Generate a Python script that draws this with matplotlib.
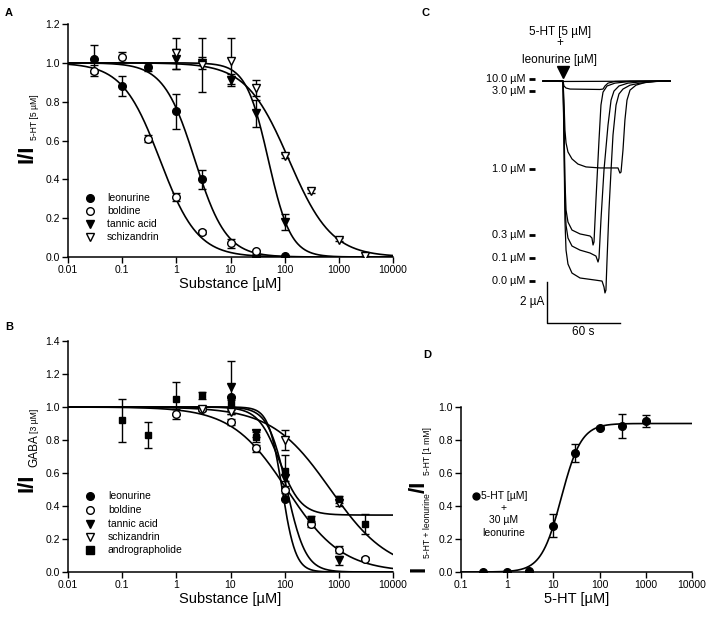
import numpy as np
import matplotlib
matplotlib.use('Agg')
import matplotlib.pyplot as plt

plt.rcParams['font.family'] = ['Liberation Sans', 'DejaVu Sans']

# ---------------- panel A : 5-HT3 receptor, 5 uM 5-HT ----------------
a_leo_x = [0.03, 0.1, 0.3, 1, 3, 30, 100]
a_leo_y = [1.02, 0.88, 0.98, 0.75, 0.40, 0.005, 0.003]
a_leo_e = [0.07, 0.05, 0.02, 0.09, 0.05, 0.0, 0.0]
a_bol_x = [0.03, 0.1, 0.3, 1, 3, 10, 30]
a_bol_y = [0.96, 1.03, 0.61, 0.31, 0.13, 0.07, 0.03]
a_bol_e = [0.03, 0.025, 0.02, 0.02, 0.01, 0.025, 0.005]
a_tan_x = [1, 3, 10, 30, 100]
a_tan_y = [1.02, 1.0, 0.91, 0.74, 0.18]
a_tan_e = [0.05, 0.03, 0.03, 0.07, 0.04]
a_sch_x = [1, 3, 10, 30, 100, 300, 1000, 3000]
a_sch_y = [1.05, 0.99, 1.01, 0.87, 0.52, 0.34, 0.09, 0.005]
a_sch_e = [0.08, 0.14, 0.12, 0.04, 0.01, 0.01, 0.01, 0.0]
# fitted (IC50, nH, bottom)
a_fits = [(2.2, 1.5, 0.0), (0.5, 1.25, 0.0), (50, 2.1, 0.0), (120, 1.1, 0.0)]

# ---------------- panel B : GABA-A receptor, 3 uM GABA ----------------
b_leo_x = [10, 100]
b_leo_y = [1.06, 0.44]
b_leo_e = [0.0, 0.0]
b_bol_x = [1, 3, 10, 30, 100, 300, 1000, 3000]
b_bol_y = [0.96, 0.99, 0.91, 0.75, 0.50, 0.29, 0.135, 0.08]
b_bol_e = [0.03, 0.01, 0.02, 0.02, 0.02, 0.02, 0.02, 0.01]
b_tan_x = [10, 30, 100, 1000]
b_tan_y = [1.12, 0.84, 0.57, 0.07]
b_tan_e = [0.16, 0.02, 0.02, 0.03]
b_sch_x = [3, 10, 100, 1000]
b_sch_y = [0.985, 0.97, 0.80, 0.42]
b_sch_e = [0.01, 0.01, 0.06, 0.02]
b_and_x = [0.1, 0.3, 1, 3, 10, 30, 100, 300, 1000, 3000]
b_and_y = [0.92, 0.83, 1.05, 1.07, 1.02, 0.82, 0.61, 0.32, 0.44, 0.29]
b_and_e = [0.13, 0.08, 0.10, 0.02, 0.02, 0.03, 0.10, 0.02, 0.02, 0.06]
b_fits = [(90, 3.5, 0.0), (110, 0.85, 0.0), (110, 2.5, 0.0), (700, 0.8, 0.0), (80, 2.2, 0.345)]

# ---------------- panel D : 5-HT + 30 uM leonurine ----------------
d_x = [0.3, 1, 3, 10, 30, 100, 300, 1000]
d_y = [0.0, 0.0, 0.005, 0.28, 0.72, 0.875, 0.885, 0.915]
d_e = [0, 0, 0, 0.07, 0.055, 0.01, 0.07, 0.035]
d_fit = (14.8, 2.0, 0.9)   # EC50, nH, top

# ---------------- panel C : current traces (t in s, I in uA) ----------------
c_labels = ['10.0 µM', '3.0 µM', '1.0 µM', '0.3 µM', '0.1 µM', '0.0 µM']
c_label_i = [0.12, -0.5, -4.29, -7.52, -8.64, -9.76]
tr100_t = [-16.4, 0, 88]
tr100_i = [0, -0.02, 0]
tr30_t = [-16.4, 0, 0.8, 2.5, 5.8, 30.4, 32.9, 34.5, 37.0, 42.7, 55.1, 88]
tr30_i = [0, 0, -0.24, -0.34, -0.39, -0.41, -0.39, -0.24, -0.10, -0.02, 0, 0]
tr10_t = [-16.4, 0, 0.8, 1.6, 2.5, 4.1, 7.4, 12.3, 18.9, 30.4, 45.2, 46.8, 47.7,
          49.3, 50.9, 52.6, 55.1, 60.0, 67.4, 79.7, 88]
tr10_i = [0, 0, -0.93, -2.39, -3.02, -3.46, -3.80, -4.05, -4.19, -4.24, -4.24, -4.49, -4.44,
          -3.37, -1.90, -0.93, -0.44, -0.20, -0.07, 0, 0]
tr03_t = [-16.4, 0, 0.8, 1.6, 2.5, 4.1, 7.4, 14.0, 22.2, 23.8, 24.7, 25.5, 27.1,
          29.6, 31.2, 32.9, 36.2, 42.7, 55.1, 71.5, 88]
tr03_i = [0, 0, -1.90, -4.83, -6.29, -6.88, -7.27, -7.46, -7.56, -7.66, -8.00, -7.85, -5.80,
          -2.88, -1.17, -0.54, -0.24, -0.10, -0.02, 0, 0]
tr01_t = [-16.4, 0, 0.8, 1.6, 2.5, 4.1, 7.4, 14.0, 22.2, 27.1, 28.8, 29.6, 31.2, 33.7,
          37.0, 39.5, 41.9, 46.0, 53.4, 67.4, 83.8, 88]
tr01_i = [0, 0, -2.39, -5.81, -7.03, -7.66, -8.05, -8.25, -8.39, -8.54, -8.83, -8.64, -6.78,
          -4.34, -2.15, -0.93, -0.49, -0.24, -0.10, -0.02, 0, 0]
tr00_t = [-16.4, 0, 0.8, 1.6, 2.5, 4.1, 7.4, 14.0, 26.3, 32.1, 33.7, 34.5, 35.3, 36.2,
          37.8, 39.5, 41.1, 43.6, 46.0, 49.3, 55.1, 63.3, 75.6, 88]
tr00_i = [0, 0, -2.88, -6.78, -8.25, -8.93, -9.37, -9.61, -9.71, -9.76, -10.05, -10.34, -10.20,
          -8.73, -6.29, -4.34, -2.63, -1.17, -0.63, -0.39, -0.20, -0.10, -0.02, 0]


def hill(x, c, n, bottom=0.0, top=1.0):
    return bottom + (top - bottom) / (1.0 + (x / c) ** n)


def style_axis(ax, xlim, ylim, yticks, xticks):
    ax.set_xscale('log')
    ax.set_xlim(xlim)
    ax.set_ylim(ylim)
    ax.spines['top'].set_visible(False)
    ax.spines['right'].set_visible(False)
    for s in ['left', 'bottom']:
        ax.spines[s].set_linewidth(1.1)
    ax.set_xticks(xticks)
    ax.set_xticklabels(['%g' % v for v in xticks])
    ax.xaxis.set_minor_locator(matplotlib.ticker.NullLocator())
    ax.set_yticks(yticks)
    ax.set_yticklabels(['%.1f' % v for v in yticks])
    ax.tick_params(direction='out', length=4, width=1.0, labelsize=7.5, pad=2)


def plot_series(ax, x, y, e, marker, filled, ms=5.5):
    ax.errorbar(x, y, yerr=e, fmt='none', ecolor='k', elinewidth=1.0, capsize=3, capthick=1.0, zorder=3)
    ax.plot(x, y, ls='none', marker=marker, ms=ms, mec='k', mew=1.0,
            mfc='k' if filled else 'white', zorder=4)


def manual_legend(ax, entries, x_mark, x_text, ys):
    for (label, marker, filled), y in zip(entries, ys):
        ax.plot([x_mark], [y], transform=ax.transAxes, ls='none', marker=marker, ms=5.5,
                mec='k', mew=1.0, mfc='k' if filled else 'white', clip_on=False)
        ax.text(x_text, y, label, transform=ax.transAxes, fontsize=7.5, va='center', ha='left')


W, H = 708.0, 620.0
fig = plt.figure(figsize=(7.08, 6.2), dpi=100)


def px(x0, y_top, x1, y_bot):
    return [x0 / W, 1 - y_bot / H, (x1 - x0) / W, (y_bot - y_top) / H]


decades = [0.01, 0.1, 1, 10, 100, 1000, 10000]

# ---- A
axA = fig.add_axes(px(68, 24, 393, 257))
style_axis(axA, (0.01, 10000), (0, 1.2), np.arange(0, 1.21, 0.2), decades)
xc = np.logspace(-2, 4, 400)
for c, n, b in a_fits:
    axA.plot(xc, hill(xc, c, n, b), color='k', lw=1.2, zorder=2)
plot_series(axA, a_leo_x, a_leo_y, a_leo_e, 'o', True)
plot_series(axA, a_bol_x, a_bol_y, a_bol_e, 'o', False)
plot_series(axA, a_tan_x, a_tan_y, a_tan_e, 'v', True, 6)
plot_series(axA, a_sch_x, a_sch_y, a_sch_e, 'v', False, 6)
manual_legend(axA, [('leonurine', 'o', True), ('boldine', 'o', False),
                    ('tannic acid', 'v', True), ('schizandrin', 'v', False)],
              0.068, 0.12, [0.253, 0.197, 0.142, 0.086])
axA.set_xlabel('Substance [µM]', fontsize=10.5, labelpad=1)

# ---- B
axB = fig.add_axes(px(68, 341, 393, 572))
style_axis(axB, (0.01, 10000), (0, 1.4), np.arange(0, 1.41, 0.2), decades)
for c, n, b in b_fits:
    axB.plot(xc, hill(xc, c, n, b), color='k', lw=1.2, zorder=2)
plot_series(axB, b_leo_x, b_leo_y, b_leo_e, 'o', True)
plot_series(axB, b_bol_x, b_bol_y, b_bol_e, 'o', False)
plot_series(axB, b_tan_x, b_tan_y, b_tan_e, 'v', True, 6)
plot_series(axB, b_sch_x, b_sch_y, b_sch_e, 'v', False, 6)
plot_series(axB, b_and_x, b_and_y, b_and_e, 's', True, 5)
manual_legend(axB, [('leonurine', 'o', True), ('boldine', 'o', False),
                    ('tannic acid', 'v', True), ('schizandrin', 'v', False),
                    ('andrographolide', 's', True)],
              0.068, 0.123, [0.329, 0.268, 0.208, 0.152, 0.095])
axB.set_xlabel('Substance [µM]', fontsize=10.5, labelpad=1)

# ---- D
axD = fig.add_axes(px(461, 407, 692, 572))
style_axis(axD, (0.1, 10000), (0, 1.0), np.arange(0, 1.01, 0.2), [0.1, 1, 10, 100, 1000, 10000])
xd = np.logspace(-1, 4, 400)
axD.plot(xd, d_fit[2] * (1 - hill(xd, d_fit[0], d_fit[1])), color='k', lw=1.2, zorder=2)
plot_series(axD, d_x, d_y, d_e, 'o', True)
axD.plot([0.065], [0.46], transform=axD.transAxes, ls='none', marker='o', ms=5, color='k', clip_on=False)
axD.text(0.088, 0.46, '5-HT [µM]', transform=axD.transAxes, fontsize=7.5, va='center')
axD.text(0.186, 0.388, '+', transform=axD.transAxes, fontsize=7.5, va='center', ha='center')
axD.text(0.186, 0.315, '30 µM', transform=axD.transAxes, fontsize=7.5, va='center', ha='center')
axD.text(0.186, 0.236, 'leonurine', transform=axD.transAxes, fontsize=7.5, va='center', ha='center')
axD.set_xlabel('5-HT [µM]', fontsize=10.5, labelpad=1)

# ---- C
axC = fig.add_axes(px(480, 20, 700, 345))
axC.set_xlim(-68.2, 112.6)
axC.set_ylim(-12.88, 2.98)
axC.axis('off')
for t, i in [(tr100_t, tr100_i), (tr30_t, tr30_i), (tr10_t, tr10_i),
             (tr03_t, tr03_i), (tr01_t, tr01_i), (tr00_t, tr00_i)]:
    axC.plot(t, i, color='k', lw=0.9)
for lab, yi in zip(c_labels, c_label_i):
    axC.text(-31.2, yi, lab, fontsize=7.8, ha='right', va='center')
    axC.plot([-28, -23], [yi, yi], color='k', lw=2, solid_capstyle='butt')
axC.plot([0], [0.45], marker='v', ms=8, color='k', ls='none')
axC.text(-2.5, 2.39, '5-HT [5 µM]', fontsize=8.5, ha='center', va='center')
axC.text(-2.5, 1.85, '+', fontsize=8.5, ha='center', va='center')
axC.text(-2.5, 1.02, 'leonurine [µM]', fontsize=8.5, ha='center', va='center')
axC.plot([-13.2, -13.2, 46.8], [-9.81, -11.81, -11.81], color='k', lw=1.0)
axC.text(-15.6, -10.78, '2 µA', fontsize=8.5, ha='right', va='center')
axC.text(16.4, -12.25, '60 s', fontsize=8.5, ha='center', va='center')


# ---- y labels (big I/I with small subscripts), read bottom to top
def ylab(parts, x_base):
    for text, size, bold, dx, y_start in parts:
        fig.text((x_base + dx) / W, 1 - y_start / H, text, rotation=90, rotation_mode='anchor',
                 ha='left', va='baseline', fontsize=size, fontweight='bold' if bold else 'normal')


ylab([('I/I', 16, True, 0, 163), ('5-HT [5 µM]', 6.2, False, 4, 140)], 33)
ylab([('I/I', 16, True, 0, 492), ('GABA', 8.5, False, 4, 467), ('[3 µM]', 6.2, False, 4, 433)], 33)
ylab([('I', 16, True, 0, 572), ('5-HT + leonurine', 6.2, False, 5, 558), ('/I', 16, True, 0, 493),
      ('5-HT [1 mM]', 6.2, False, 5, 475)], 425)

for lab, x, y in [('A', 5, 13), ('B', 5, 327), ('C', 422, 13), ('D', 423, 355)]:
    fig.text(x / W, 1 - y / H, lab, fontsize=8, fontweight='bold', va='center')

fig.savefig('out.png', dpi=100)
